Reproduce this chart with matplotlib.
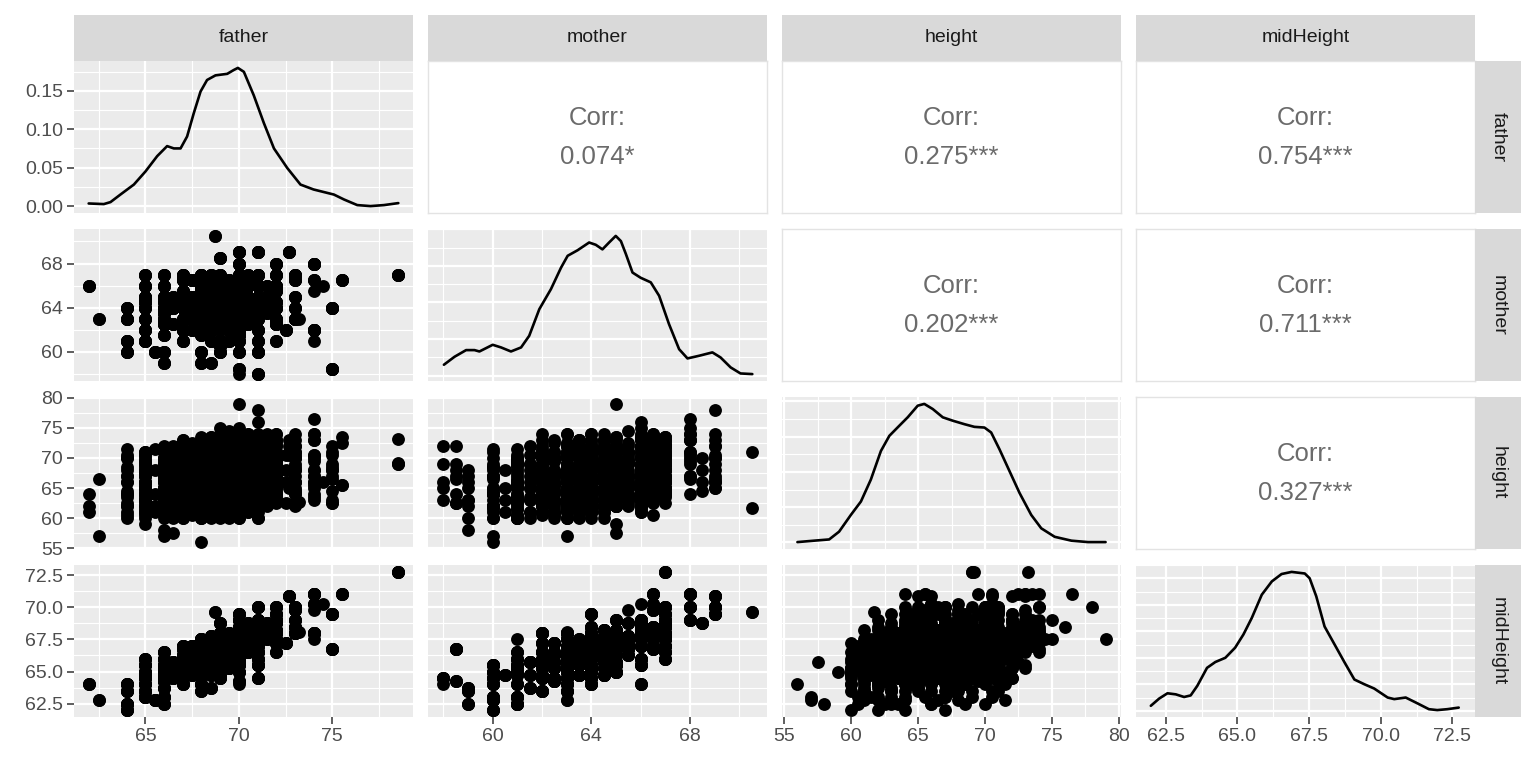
import numpy as np
import matplotlib
matplotlib.use("Agg")
import matplotlib.pyplot as plt

# ---------------- data ----------------
fam_father = [78.5, 75.5, 75.0, 75.0, 75.0, 74.5, 74.0, 74.0, 74.0, 74.0, 74.0, 74.0,
              73.2, 73.0, 73.0, 73.0, 73.0, 72.7, 72.5, 72.0, 72.0, 72.0, 72.0, 72.0,
              72.0, 71.5, 71.5, 71.0, 71.0, 71.0, 71.0, 71.0, 71.0, 71.0, 71.0, 71.0,
              70.5, 70.5, 70.5, 70.5, 70.0, 70.0, 70.0, 70.0, 70.0, 70.0, 70.0, 70.0,
              70.0, 70.0, 70.0, 70.0, 70.0, 69.5, 69.5, 69.5, 69.5, 69.0, 69.0, 69.0,
              69.0, 69.0, 69.0, 69.0, 69.0, 69.0, 68.7, 68.5, 68.5, 68.5, 68.5, 68.5,
              68.5, 68.0, 68.0, 68.0, 68.0, 68.0, 68.0, 67.5, 67.5, 67.5, 67.0, 67.0,
              67.0, 67.0, 67.0, 66.5, 66.5, 66.0, 66.0, 66.0, 66.0, 66.0, 66.0, 66.0,
              66.0, 65.5, 65.0, 65.0, 65.0, 65.0, 65.0, 64.0, 64.0, 64.0, 62.5, 62.0,
              70.0, 69.5, 69.0, 68.5, 70.5, 71.0, 68.0, 67.5, 72.0, 69.0, 70.0, 68.0,
              66.0, 71.5, 70.0, 69.5,
              67.0, 68.0, 69.0, 70.0, 71.0, 66.0, 65.0, 68.5, 69.5, 70.5, 67.5, 72.0,
              64.0, 65.0, 66.5, 68.0, 69.0, 70.0, 71.0, 73.0, 67.0,
              67.5, 68.5, 69.5, 70.5, 71.5, 69.0, 70.0, 68.0, 66.0, 67.0, 72.0, 69.5,
              65.0, 70.5, 68.5]
fam_mother = [67.0, 66.5, 64.0, 64.0, 58.5, 66.0, 68.0, 68.0, 66.5, 65.5, 62.0, 61.0,
              63.0, 67.0, 66.5, 65.0, 64.0, 69.0, 62.0, 68.0, 67.0, 65.5, 64.0, 63.0,
              61.0, 65.0, 63.5, 69.0, 67.0, 66.0, 65.0, 64.0, 63.0, 62.0, 61.0, 58.0,
              67.0, 65.0, 64.0, 62.5, 69.0, 68.0, 67.0, 66.0, 65.0, 64.0, 63.5, 63.0,
              62.0, 61.0, 60.0, 58.5, 58.0, 66.5, 64.0, 62.0, 61.0, 68.5, 67.0, 66.0,
              65.0, 64.0, 63.0, 62.0, 60.5, 60.0, 70.5, 67.0, 65.0, 64.0, 63.0, 61.0,
              59.0, 65.5, 64.0, 63.0, 61.5, 60.0, 59.0, 65.0, 63.5, 62.0, 66.5, 65.5,
              64.5, 63.0, 61.0, 62.5, 65.0, 67.0, 66.0, 65.0, 64.0, 63.0, 61.5, 60.0,
              59.0, 60.0, 67.0, 66.0, 65.0, 64.0, 63.0, 64.0, 63.0, 60.0, 63.0, 66.0,
              64.5, 65.0, 63.5, 65.5, 63.5, 64.5, 62.5, 64.5, 64.5, 64.5, 65.5, 64.5,
              64.5, 66.0, 62.5, 63.0,
              62.0, 66.0, 62.5, 66.5, 63.5, 62.5, 61.0, 62.0, 65.5, 66.0, 66.5, 62.5,
              61.0, 62.0, 64.0, 67.0, 61.0, 61.5, 60.0, 63.0, 67.0,
              63.0, 64.5, 66.0, 64.5, 64.0, 65.5, 63.0, 63.5, 63.5, 64.0, 66.0, 64.5,
              64.5, 66.5, 66.5]
fam_children = [
    [73.2, 69.2, 69.0, 69.0], [73.5, 72.5, 65.5, 65.5], [71.0, 68.0],
    [70.5, 68.5, 67.0, 64.5, 63.0], [72.0, 69.0, 68.0, 66.5, 62.5, 62.5], [66.0],
    [69.5], [76.5, 74.0, 73.0, 73.0, 70.5, 64.0], [70.5, 68.0, 66.0], [65.5],
    [74.0, 70.0, 68.0, 67.0, 67.0, 66.0, 63.5, 63.0], [65.0],
    [62.7], [71.0, 70.5, 70.0, 67.0, 65.0, 64.0], [73.0, 71.0, 68.0, 66.0],
    [72.0, 68.5, 64.5, 62.0], [70.0, 69.0, 66.0, 64.5], [73.0, 72.0, 70.5, 66.0, 65.0],
    [70.5, 68.0, 66.0, 62.5], [74.0, 71.0, 70.0, 67.0, 66.5], [73.0, 72.0, 69.5, 66.0, 64.0],
    [70.0, 67.0, 65.0, 63.0], [72.5, 70.0, 69.0, 68.0, 66.5, 64.0, 63.5],
    [71.0, 68.0, 66.0, 65.0, 64.0],
    [69.0, 66.5, 63.0], [73.0, 70.0, 67.0, 64.0, 62.0], [71.0, 68.5, 65.0],
    [78.0, 74.0, 70.0, 69.0, 67.0, 66.0], [73.5, 72.0, 70.5, 68.0, 65.0, 64.5],
    [76.0, 72.0, 70.0, 68.5, 66.0, 64.0, 63.0, 62.0], [73.5, 71.0, 69.0, 67.5, 65.5, 64.0],
    [70.0, 69.5, 68.0, 66.0, 64.0, 63.0, 61.0], [72.5, 70.5, 68.0, 65.0, 63.5],
    [71.5, 69.0, 67.0, 64.5, 62.5], [70.0, 66.0, 64.0, 60.0], [72.0, 69.0, 65.0, 63.0],
    [73.0, 70.0, 67.0, 64.0], [72.0, 69.0, 68.5, 66.0, 63.5],
    [74.0, 71.0, 68.0, 65.5, 64.0, 62.0], [70.0, 67.5, 65.0, 63.0, 61.0],
    [72.0, 70.0, 68.0, 66.5, 65.0], [75.0, 73.0, 71.0, 69.0, 67.0],
    [72.5, 71.0, 68.0, 66.0, 65.0, 64.0], [73.0, 70.5, 69.0, 67.0, 65.5, 64.0, 62.5],
    [79.0, 72.0, 70.0, 69.0, 68.0, 66.0, 65.0, 63.0, 62.0],
    [71.5, 70.0, 68.5, 66.0, 64.5, 63.5, 61.0], [73.0, 69.0, 67.0, 64.0, 62.0],
    [71.0, 68.0, 66.5, 65.0, 63.0, 60.0],
    [70.0, 68.0, 64.0, 62.5], [69.0, 66.0, 63.0, 61.5], [68.5, 65.0, 62.0, 60.0],
    [67.0, 64.0, 62.5], [66.0], [72.0, 70.0, 68.0, 65.0],
    [73.0, 70.5, 69.0, 67.0, 65.0, 63.0, 62.0], [71.0, 68.0, 66.0, 64.0, 61.0],
    [69.5, 65.0, 63.0, 60.0], [70.0, 68.0, 66.0, 64.5], [71.5, 70.0, 68.0, 65.0, 64.0],
    [75.0, 72.0, 69.0, 67.0, 66.0, 63.5], [73.5, 71.0, 70.0, 68.0, 66.5, 65.0, 64.0, 62.0],
    [72.0, 69.5, 68.0, 66.0, 64.5, 63.0, 61.5], [71.0, 69.0, 67.0, 65.0, 63.0],
    [70.5, 67.0, 64.0, 62.0], [68.0, 65.0, 63.0, 61.0], [70.0, 66.5, 64.0, 62.0],
    [71.0, 61.7], [73.5, 70.0, 68.0, 66.0, 64.0], [72.0, 70.0, 68.5, 66.0, 65.0, 63.0],
    [71.0, 69.0, 67.0, 65.5, 64.0, 62.5, 61.0], [70.0, 68.0, 66.0, 64.0, 62.0],
    [69.0, 66.0, 63.5, 60.0], [68.0, 65.0, 62.0],
    [72.0, 69.0, 67.0, 65.0, 63.0], [71.0, 69.5, 68.0, 66.0, 64.0, 62.5, 61.0],
    [70.0, 67.5, 66.0, 64.0, 62.0], [69.0, 66.0, 63.0, 60.0],
    [68.5, 65.0, 64.0, 62.0, 56.0], [67.0, 63.0, 60.0],
    [71.0, 68.0, 66.0, 64.0, 62.0], [70.0, 67.0, 65.0, 63.0, 61.0], [69.0, 66.5, 64.0, 62.0],
    [73.0, 70.0, 67.0, 65.0, 63.0], [71.0, 69.0, 66.0, 64.0],
    [72.0, 69.5, 68.0, 66.0, 64.5, 62.0, 60.0], [70.5, 68.0, 65.0, 63.0, 61.0],
    [68.0, 65.0, 62.0, 60.0], [70.5, 68.0, 66.0, 64.0, 62.0], [69.0, 66.0, 63.0, 57.5],
    [72.0, 69.0, 67.0, 65.0], [70.0, 68.0, 66.0, 64.0, 62.0], [71.0, 69.0, 66.5, 65.0, 63.0],
    [70.0, 68.5, 67.0, 65.0, 63.0, 61.0], [69.0, 67.0, 64.0, 62.0, 60.0],
    [68.0, 65.0, 63.0, 61.0], [67.0, 64.0, 62.0, 57.0], [66.0, 63.0, 58.0],
    [71.5, 68.0, 64.0, 62.0, 61.0], [70.5, 68.0, 66.0, 64.0], [71.0, 69.0, 67.0, 65.0, 63.0],
    [70.0, 68.0, 66.0, 64.0, 62.0, 59.0], [69.5, 67.0, 65.0, 63.5, 61.0],
    [68.5, 66.0, 64.0, 62.0, 60.0], [71.5, 70.0, 67.0, 64.5, 62.0],
    [70.5, 68.0, 66.0, 64.0, 61.0], [67.0, 64.0, 62.0, 60.0], [66.5, 57.0], [64.0, 62.0, 61.0],
    [72.0, 69.0, 67.0, 65.0, 64.0, 62.0], [71.5, 69.0, 68.0, 66.0, 64.5, 63.0],
    [70.0, 68.5, 66.5, 64.0, 62.5], [71.0, 69.5, 67.5, 65.0, 63.5],
    [73.0, 70.0, 68.0, 66.5, 64.0, 62.0], [71.0, 69.0, 67.0, 65.0, 63.0],
    [70.0, 67.0, 64.5, 63.0, 60.0], [71.5, 68.5, 67.0, 65.0, 63.0],
    [73.0, 71.0, 68.0, 66.0, 64.5], [74.0, 70.0, 67.5, 66.0, 64.0, 62.0],
    [71.0, 69.5, 67.0, 66.0, 64.0], [70.5, 68.0, 66.0, 64.5, 62.0],
    [69.0, 67.0, 65.0, 63.0], [72.0, 69.0, 67.5, 65.0], [70.0, 67.0, 65.5, 63.0, 60.5],
    [72.0, 69.0, 67.0, 65.0, 62.0],
    [72.0, 70.0, 68.5, 66.5, 65.5, 63.5, 62.5, 61.0],
    [73.0, 71.5, 69.0, 67.5, 66.0, 64.5, 63.5, 61.5],
    [72.5, 70.0, 68.0, 66.5, 64.5, 63.0, 61.5, 60.5],
    [74.0, 71.0, 69.5, 68.5, 67.5, 66.5, 64.5, 63.0],
    [73.0, 71.5, 70.0, 67.5, 66.0, 64.0, 62.0, 60.0],
    [71.0, 69.5, 67.5, 66.0, 64.5, 62.5, 61.0],
    [70.5, 69.0, 67.0, 65.5, 63.0, 61.5, 60.5],
    [73.0, 71.0, 69.0, 67.5, 65.0, 63.5, 62.0, 60.5],
    [74.5, 71.0, 69.5, 68.0, 66.5, 65.0, 63.5, 62.0],
    [73.5, 72.0, 70.0, 68.0, 66.5, 65.5, 63.0, 61.0],
    [72.5, 71.0, 69.5, 67.0, 65.5, 64.0, 62.5, 60.5],
    [73.0, 71.0, 69.5, 67.0, 65.5, 64.0, 62.5],
    [70.0, 68.5, 66.0, 63.5, 62.5, 60.5],
    [71.0, 69.0, 67.5, 65.0, 63.0, 61.0],
    [72.0, 70.5, 68.5, 67.0, 65.0, 63.5, 61.5, 60.0],
    [73.5, 71.0, 69.0, 67.0, 66.0, 64.0, 62.5],
    [71.5, 69.5, 67.5, 65.5, 64.0, 62.5, 60.0],
    [72.0, 70.5, 69.0, 67.0, 65.0, 63.5, 61.0],
    [71.0, 69.0, 67.0, 64.5, 63.0, 61.5],
    [74.0, 72.0, 70.0, 68.0, 66.0, 64.0, 62.5],
    [72.0, 70.5, 68.5, 66.5, 65.0, 63.5],
    [72.0, 70.5, 69.0, 67.5, 66.0, 64.5, 63.0, 61.5],
    [73.0, 71.5, 69.5, 68.0, 66.5, 65.0, 63.5, 62.0],
    [73.5, 71.0, 69.0, 67.5, 66.0, 64.5, 63.0],
    [72.5, 71.0, 69.5, 68.0, 66.5, 65.0, 63.0, 61.5],
    [74.0, 72.0, 70.0, 68.5, 67.0, 65.5, 64.0, 62.5],
    [72.5, 70.5, 69.0, 67.0, 65.5, 64.0, 62.5],
    [74.0, 72.5, 70.0, 67.5, 66.0, 64.5, 61.5],
    [72.0, 70.0, 68.5, 67.0, 65.5, 63.5, 62.0, 60.5],
    [71.5, 70.0, 68.0, 66.5, 64.5, 63.0, 61.5],
    [73.0, 71.0, 69.0, 67.5, 65.5, 64.0, 62.5, 61.0],
    [74.0, 72.0, 70.0, 68.5, 67.0, 65.5, 64.0],
    [73.0, 71.5, 70.0, 68.5, 66.0, 64.5, 63.0, 61.0],
    [71.0, 69.5, 67.5, 66.0, 64.5, 62.5, 61.0],
    [74.0, 72.5, 70.5, 69.0, 67.0, 65.5, 64.0],
    [73.5, 71.5, 70.0, 68.0, 66.5, 65.0, 63.5],
]

# density curves
dens_father_x = [61.96, 62.77, 63.13, 63.66, 64.38, 65.0, 65.63, 66.16, 66.52, 66.88, 67.23,
                 67.59, 67.95, 68.3, 68.75, 69.38, 69.73, 69.95, 70.27, 70.8, 71.34, 71.88,
                 72.59, 73.3, 74.0, 75.09, 75.63, 76.34, 77.05, 77.77, 78.54]
dens_father_y = [0.0034, 0.0026, 0.0052, 0.015, 0.028, 0.045, 0.065, 0.078, 0.075, 0.075, 0.0905,
                 0.121, 0.149, 0.164, 0.170, 0.172, 0.177, 0.1797, 0.1746, 0.144, 0.108, 0.075,
                 0.0496, 0.028, 0.0216, 0.015, 0.0086, 0.0013, 0.0, 0.0013, 0.0039]
dens_mother_x = [58.02, 58.45, 58.92, 59.26, 59.46, 60.0, 60.34, 60.74, 61.15, 61.48, 61.89,
                 62.36, 62.77, 63.04, 63.44, 63.91, 64.18, 64.45, 64.72, 64.99, 65.2, 65.4,
                 65.67, 66.0, 66.41, 66.75, 67.15, 67.56, 67.9, 68.37, 68.91, 69.24, 69.65,
                 70.05, 70.53]
dens_mother_y = [0.012, 0.0207, 0.028, 0.028, 0.0265, 0.0338, 0.0309, 0.0265, 0.0309, 0.0436,
                 0.0727, 0.0945, 0.118, 0.131, 0.137, 0.1455, 0.143, 0.138, 0.1455, 0.1527,
                 0.147, 0.133, 0.1127, 0.107, 0.102, 0.0873, 0.0564, 0.029, 0.0189, 0.0218,
                 0.0255, 0.02, 0.0091, 0.0025, 0.0018]
dens_height_x = [56.0, 57.24, 58.37, 59.11, 59.99, 60.74, 61.48, 62.23, 62.86, 63.6, 64.23,
                 64.98, 65.47, 66.1, 66.85, 67.59, 68.47, 69.21, 69.96, 70.46, 71.08, 71.83,
                 72.58, 73.45, 74.2, 75.2, 76.45, 77.69, 79.0]
dens_height_y = [0.0002, 0.001, 0.0017, 0.0061, 0.0156, 0.0232, 0.0356, 0.0518, 0.0604, 0.0661,
                 0.0709, 0.0775, 0.0785, 0.0756, 0.0709, 0.069, 0.067, 0.0655, 0.0651, 0.0623,
                 0.0528, 0.0404, 0.028, 0.0156, 0.008, 0.0032, 0.001, 0.0002, 0.0002]
dens_mid_x = [61.98, 62.27, 62.56, 62.85, 63.14, 63.37, 63.6, 63.94, 64.23, 64.58, 64.92,
              65.21, 65.5, 65.85, 66.2, 66.54, 66.89, 67.35, 67.52, 67.75, 68.04, 68.39,
              68.74, 69.08, 69.43, 69.77, 70.24, 70.47, 70.87, 71.28, 71.68, 71.97, 72.32,
              72.72]
dens_mid_y = [0.0094, 0.023, 0.033, 0.031, 0.026, 0.029, 0.047, 0.081, 0.092, 0.1, 0.119,
              0.144, 0.175, 0.219, 0.244, 0.258, 0.262, 0.259, 0.25, 0.216, 0.159, 0.125,
              0.091, 0.059, 0.05, 0.042, 0.025, 0.022, 0.025, 0.014, 0.003, 0.0013, 0.003,
              0.006]

variables = ["father", "mother", "height", "midHeight"]
corr_values = {(0, 1): "0.074*", (0, 2): "0.275***", (0, 3): "0.754***",
               (1, 2): "0.202***", (1, 3): "0.711***", (2, 3): "0.327***"}
major_ticks = {"father": [65, 70, 75], "mother": [60, 64, 68],
               "height": [55, 60, 65, 70, 75, 80],
               "midHeight": [62.5, 65.0, 67.5, 70.0, 72.5]}
tick_labels = {"father": ["65", "70", "75"], "mother": ["60", "64", "68"],
               "height": ["55", "60", "65", "70", "75", "80"],
               "midHeight": ["62.5", "65.0", "67.5", "70.0", "72.5"]}
density_major = [[0.0, 0.05, 0.10, 0.15], [0.0, 0.04, 0.08, 0.12, 0.16],
                 [0.0, 0.02, 0.04, 0.06, 0.08], [0.0, 0.05, 0.10, 0.15, 0.20, 0.25]]
density_labels_row1 = ["0.00", "0.05", "0.10", "0.15"]

# ---------------- expand family table to one row per child ----------------
father, mother, height = [], [], []
for f, m, kids in zip(fam_father, fam_mother, fam_children):
    for h in kids:
        father.append(f)
        mother.append(m)
        height.append(h)
father = np.array(father)
mother = np.array(mother)
height = np.array(height)
midHeight = (father + mother) / 2.0
data = {"father": father, "mother": mother, "height": height, "midHeight": midHeight}
densities = [(dens_father_x, dens_father_y), (dens_mother_x, dens_mother_y),
             (dens_height_x, dens_height_y), (dens_mid_x, dens_mid_y)]


def expanded(lo, hi, mult=0.05):
    r = hi - lo
    return lo - mult * r, hi + mult * r


limits = {v: expanded(data[v].min(), data[v].max()) for v in variables}


def minor_of(majors, lim):
    majors = list(majors)
    step = majors[1] - majors[0]
    cands = [majors[0] - step / 2] + [a + step / 2 for a in majors]
    return [c for c in cands if lim[0] <= c <= lim[1]]


# ---------------- figure layout ----------------
W, H = 1536, 768
plt.rcParams["font.family"] = ["Liberation Sans", "DejaVu Sans"]
fig = plt.figure(figsize=(W / 100, H / 100), dpi=100)
fig.patch.set_facecolor("white")

col_left = [74, 428, 782, 1136]
row_top = [61, 229, 397, 565]
pw, ph = 339, 152
strip = 46

PANEL_BG = "#EBEBEB"
STRIP_BG = "#D9D9D9"
TICK_COL = "#4D4D4D"
TICK_SIZE = 14
STRIP_SIZE = 14
CORR_SIZE = 18.5


def fig_rect(x, y, w, h):
    return [x / W, 1 - (y + h) / H, w / W, h / H]


for i in range(4):
    for j in range(4):
        ax = fig.add_axes(fig_rect(col_left[j], row_top[i], pw, ph))
        xv, yv = variables[j], variables[i]
        for s in ax.spines.values():
            s.set_visible(False)
        ax.tick_params(which="both", length=0, labelbottom=False, labelleft=False)
        if i < j:
            # correlation text panel
            ax.set_facecolor("white")
            for s in ax.spines.values():
                s.set_visible(True)
                s.set_color("#E3E3E3")
                s.set_linewidth(1.0)
            ax.set_xticks([])
            ax.set_yticks([])
            ax.text(0.5, 0.625, "Corr:", transform=ax.transAxes, ha="center", va="center",
                    fontsize=CORR_SIZE, color="#6B6B6B")
            ax.text(0.5, 0.37, corr_values[(i, j)], transform=ax.transAxes, ha="center",
                    va="center", fontsize=CORR_SIZE, color="#6B6B6B")
        else:
            ax.set_facecolor(PANEL_BG)
            ax.set_xlim(*limits[xv])
            ax.set_xticks(major_ticks[xv])
            ax.set_xticks(minor_of(major_ticks[xv], limits[xv]), minor=True)
            if i == j:
                dx, dy = densities[i]
                ylim = expanded(min(dy), max(dy))
                ax.set_ylim(*ylim)
                majors = density_major[i]
                ax.set_yticks(majors)
                ax.set_yticks(minor_of(majors, ylim), minor=True)
                ax.plot(dx, dy, color="black", lw=1.9, zorder=3, solid_capstyle="round",
                        solid_joinstyle="round")
                if i == 0:
                    ax.set_yticklabels(density_labels_row1)
            else:
                ax.set_ylim(*limits[yv])
                ax.set_yticks(major_ticks[yv])
                ax.set_yticks(minor_of(major_ticks[yv], limits[yv]), minor=True)
                ax.scatter(data[xv], data[yv], s=86, color="black", linewidths=0, zorder=3)
                if j == 0:
                    ax.set_yticklabels(tick_labels[yv])
            ax.grid(which="major", color="white", lw=1.6, zorder=0)
            ax.grid(which="minor", color="white", lw=0.8, zorder=0)
            ax.set_axisbelow(True)
            if j == 0:
                ax.tick_params(axis="y", which="major", length=5, width=1.1, color="#333333",
                               labelleft=True, labelsize=TICK_SIZE, labelcolor=TICK_COL, pad=3)
            if i == 3:
                ax.set_xticklabels(tick_labels[xv])
                ax.tick_params(axis="x", which="major", length=5, width=1.1, color="#333333",
                               labelbottom=True, labelsize=TICK_SIZE, labelcolor=TICK_COL, pad=3)

# strips
for j, v in enumerate(variables):
    sax = fig.add_axes(fig_rect(col_left[j], row_top[0] - strip, pw, strip))
    sax.set_facecolor(STRIP_BG)
    sax.set_xticks([]); sax.set_yticks([])
    for s in sax.spines.values():
        s.set_visible(False)
    sax.text(0.5, 0.5, v, ha="center", va="center", fontsize=STRIP_SIZE, color="#1A1A1A",
             transform=sax.transAxes)
for i, v in enumerate(variables):
    sax = fig.add_axes(fig_rect(col_left[3] + pw, row_top[i], strip, ph))
    sax.set_facecolor(STRIP_BG)
    sax.set_xticks([]); sax.set_yticks([])
    for s in sax.spines.values():
        s.set_visible(False)
    sax.text(0.5, 0.5, v, ha="center", va="center", fontsize=STRIP_SIZE, color="#1A1A1A",
             rotation=270, transform=sax.transAxes)

fig.savefig("out.png", dpi=100, facecolor="white")
